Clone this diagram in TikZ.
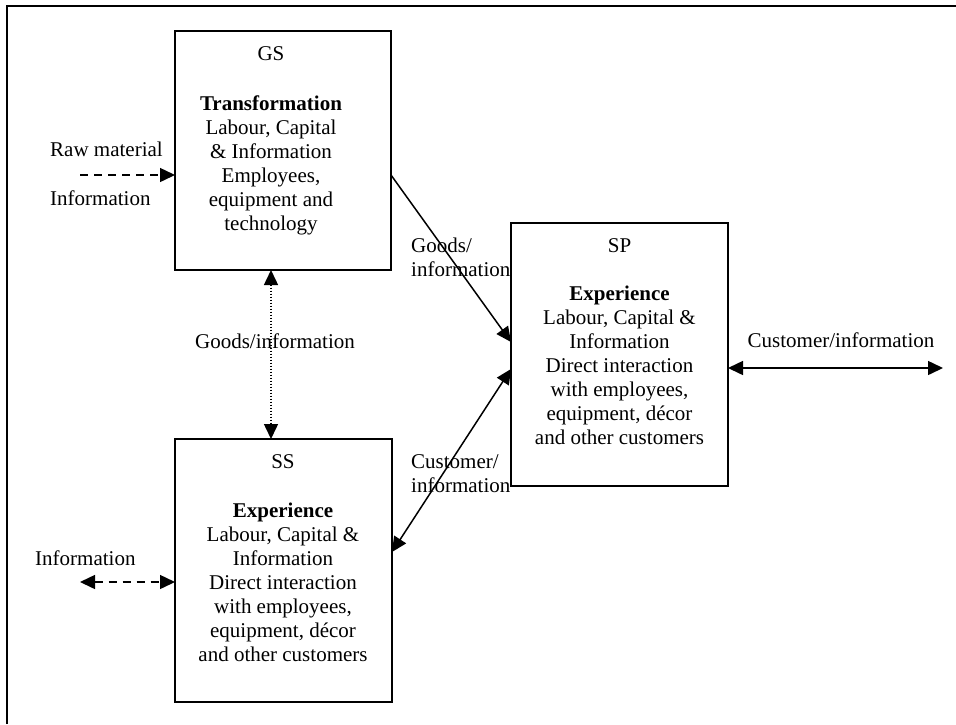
\documentclass[tikz,border=0pt]{standalone}
\usepackage{fontspec}
\setmainfont{Liberation Serif}
\usetikzlibrary{arrows.meta}
\begin{document}
\begin{tikzpicture}[x=1pt,y=-1pt,
  frame/.style={line width=2pt},
  box/.style={draw, line width=2pt, rectangle, inner sep=0pt},
  txt/.style={font=\fontsize{21}{24}\selectfont, inner sep=0pt},
  body/.style={txt, align=center, anchor=north},
  flow/.style={line width=1.5pt, -{Triangle[length=15pt,width=14pt]}},
  twoway/.style={line width=1.5pt, {Triangle[length=15pt,width=14pt]}-{Triangle[length=15pt,width=14pt]}},
  dashline/.style={dash pattern=on 8pt off 6pt},
  dotline/.style={dash pattern=on 1.5pt off 1.5pt}]
\useasboundingbox (0,0) rectangle (956,724);

% open outer frame
\coordinate (fTL) at (7,6);
\coordinate (fTR) at (956,6);
\coordinate (fBL) at (7,724);
\draw[frame] (fBL) -- (fTL) -- (fTR);

% the three boxes
\node[box, minimum width=216pt, minimum height=239pt] (gs) at (283,150.5) {};
\node[box, minimum width=217pt, minimum height=263pt] (ss) at (283.5,570.5) {};
\node[box, minimum width=217pt, minimum height=263pt] (sp) at (619.5,354.5) {};

% box contents
\node[body] (gstext) at (271,43.2) {\strut GS\\[26pt]\textbf{Transformation}\\Labour, Capital\\\& Information\\Employees,\\equipment and\\technology};
\node[body] (sstext) at (283,451.2) {\strut SS\\[25pt]\textbf{Experience}\\Labour, Capital \&\\Information\\Direct interaction\\with employees,\\equipment, décor\\and other customers};
\node[body] (sptext) at (619.5,235.2) {\strut SP\\[24pt]\textbf{Experience}\\Labour, Capital \&\\Information\\Direct interaction\\with employees,\\equipment, décor\\and other customers};

% inputs on the left
\node[txt, anchor=base west] (rawlbl) at (50,156) {Raw material};
\node[txt, anchor=base west] (infolbl) at (50,205) {Information};
\coordinate (rawtail) at (80,175);
\coordinate (rawhead) at (175,175);
\draw[flow, dashline] (rawtail) -- (rawhead);

\node[txt, anchor=base west] (ssinfolbl) at (35,565) {Information};
\coordinate (ssinfoend) at (80,582);
\coordinate (ssinfobox) at (175,582);
\draw[twoway, dashline] (ssinfoend) -- (ssinfobox);

% GS <-> SS
\coordinate (gsbot) at (271,270);
\coordinate (sstop) at (271,439);
\draw[twoway, dotline] (gsbot) -- (sstop);
\node[txt, anchor=base] (midlbl) at (275,348) {Goods/information};

% GS -> SP
\coordinate (gsout) at (391,175);
\coordinate (spin) at (511,342);
\draw[flow] (gsout) -- (spin);
\node[txt, align=left, anchor=north west] (goodslbl) at (411,235.2) {\strut Goods/\\information};

% SS <-> SP
\coordinate (ssout) at (392,552);
\coordinate (spin2) at (511,369);
\draw[twoway] (ssout) -- (spin2);
\node[txt, align=left, anchor=north west] (custlbl) at (411,451.2) {\strut Customer/\\information};

% SP <-> outside
\coordinate (spout) at (728,368);
\coordinate (custend) at (943,368);
\draw[twoway] (spout) -- (custend);
\node[txt, anchor=base] (rightlbl) at (841,347) {Customer/information};
\end{tikzpicture}
\end{document}
